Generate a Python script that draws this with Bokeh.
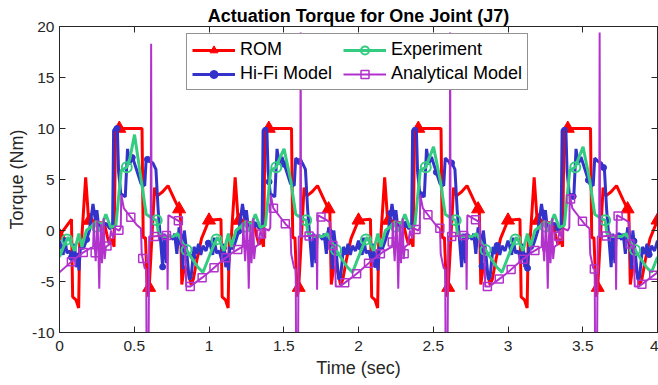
import numpy as np
from bokeh.plotting import figure
from bokeh.models import (Range1d, LinearAxis, FixedTicker, NumeralTickFormatter,
                          Legend, LegendItem)
from bokeh.embed import file_html
from bokeh.resources import INLINE

# ---------------- data (one gait cycle, period 1 s) ----------------
N_CYCLES = 4
PERIOD = 1.0

ROM_T = [0.000, 0.080, 0.088, 0.110, 0.128, 0.135, 0.150, 0.175, 0.195, 0.250, 0.300,
         0.320, 0.335, 0.350, 0.365, 0.375, 0.552, 0.560, 0.575, 0.590, 0.600, 0.636,
         0.655, 0.690, 0.726, 0.770, 0.800, 0.808, 0.818, 0.835, 0.860, 0.880, 0.895,
         0.920, 0.950, 1.000]
ROM_Y = [1.0, 1.1, -6.5, -6.8, -7.6, -1.3, -0.5, 5.2, 1.0, 0.8, 0.7,
         -0.6, -1.4, -0.8, -1.6, 10.0, 10.0, -0.7, -0.7, -6.5, -5.6, 4.2,
         3.4, 3.8, 4.4, 3.0, 2.1, 2.0, -5.3, -3.5, -4.0, -5.3, -4.8,
         -2.8, -0.8, 1.0]
ROM_START = [-0.5, 1.0, 1.0, 1.0]        # value at the start of each cycle

HIFI_T = [0.000, 0.012, 0.025, 0.034, 0.050, 0.068, 0.085, 0.101, 0.112, 0.122, 0.130,
          0.140, 0.160, 0.179, 0.200, 0.224, 0.240, 0.250, 0.265, 0.290, 0.313, 0.335,
          0.355, 0.362, 0.370, 0.387, 0.395, 0.410, 0.440, 0.455, 0.470, 0.488, 0.510,
          0.545, 0.570, 0.580, 0.600, 0.625, 0.645, 0.660, 0.690, 0.700, 0.715, 0.722,
          0.740, 0.760, 0.770, 0.785, 0.800, 0.815, 0.825, 0.835, 0.850, 0.868, 0.880,
          0.900, 0.915, 0.930, 0.945, 0.960, 0.980, 1.000]
HIFI_Y = [-1.0, -1.6, -2.4, -0.7, -2.2, -2.0, -2.9, -1.3, -3.6, -2.2, -3.9,
          -1.6, -1.8, -1.0, 0.0, 2.6, 1.0, 2.0, 0.0, 0.5, 0.7, 0.2,
          0.3, 9.8, 10.0, 10.0, 5.8, 3.6, 3.3, 8.0, 6.5, 7.2, 6.2,
          4.6, 4.4, 7.1, 6.8, 6.6, 6.0, 2.0, -3.6, -0.3, -3.2, -0.6,
          -0.5, -0.9, -0.3, -2.3, 0.3, -0.5, -3.8, 0.0, -2.0, -4.8, -4.6,
          -1.6, -2.3, -1.3, -2.4, -1.5, -2.0, -1.0]

EXP_T = [0.000, 0.030, 0.057, 0.080, 0.100, 0.130, 0.150, 0.180, 0.235, 0.270, 0.310,
         0.343, 0.377, 0.413, 0.450, 0.470, 0.502, 0.547, 0.580, 0.620, 0.650, 0.662,
         0.700, 0.760, 0.790, 0.837, 0.880, 0.926, 0.960, 1.000]
EXP_Y = [-2.6, -1.5, -0.65, -1.3, -2.0, -0.3, -1.6, 0.0, 0.65, 0.0, 1.6,
         0.3, 0.5, 5.9, 6.2, 7.0, 8.0, 4.9, 1.6, 1.2, 1.0, -0.3,
         -0.6, -0.6, -0.3, -1.6, -2.6, -3.6, -4.1, -2.6]
EXP_PEAK = [9.4, 8.0, 8.2, 8.2]          # peak value of each cycle

ANA_T = [0.000, 0.076, 0.154, 0.210, 0.225, 0.230, 0.236, 0.242, 0.248, 0.254, 0.260,
         0.266, 0.272, 0.278, 0.284, 0.290, 0.296, 0.302, 0.310, 0.330, 0.345, 0.360,
         0.370, 0.400, 0.410, 0.413, 0.430, 0.477, 0.514, 0.545, 0.550, 0.570, 0.580,
         0.583, 0.595, 0.600, 0.610, 0.613, 0.616, 0.700, 0.720, 0.723, 0.728, 0.790,
         0.810, 0.815, 0.840, 0.848, 0.874, 0.956, 1.000]
ANA_Y = [-4.1, -3.1, -2.2, -1.7, -1.6, 0.8, -1.6, -3.0, -1.2, 1.0, -1.8,
         -5.7, -1.4, 0.6, -3.2, -1.5, 1.2, -2.8, -1.6, -1.4, 0.0, -0.8,
         0.2, 0.0, 0.3, 3.5, 2.2, 1.3, 0.6, 0.2, -2.3, -3.7, -3.8,
         -14.0, -14.0, -0.6, -0.6, 19.4, -0.6, -0.5, -0.5, -5.8, 1.5, 1.0,
         0.8, -1.3, -1.6, -5.5, -5.5, -4.6, -4.1]
ANA_SPIKE = [18.3, 19.4, 19.4, 19.4]     # spike height of each cycle

X_TICKS = [0, 0.5, 1, 1.5, 2, 2.5, 3, 3.5, 4]
Y_TICKS = [-10, -5, 0, 5, 10, 15, 20]

# marker sample spacing of each series (s)
ROM_MK = (0.0, 0.2)
HIFI_MK = (0.385 - 3 * 0.1017, 0.1017)
EXP_MK = (0.05, 0.2)
ANA_MK = (0.0795, 0.0795)


def tile(ct, cy, peaks=None, starts=None):
    ts, ys = [], []
    ipk = int(np.argmax(cy))
    for k in range(N_CYCLES):
        n = len(ct) if k == N_CYCLES - 1 else len(ct) - 1
        for i in range(n):
            ts.append(ct[i] + k * PERIOD)
            if peaks is not None and i == ipk:
                ys.append(peaks[k])
            elif starts is not None and i == 0:
                ys.append(starts[k])
            else:
                ys.append(cy[i])
    return np.array(ts), np.array(ys)


def marks(t, y, start, step):
    mt = np.arange(start, 4.0 + 1e-9, step)
    return mt, np.interp(mt, t, y)


rom_t, rom_y = tile(ROM_T, ROM_Y, starts=ROM_START)
hifi_t, hifi_y = tile(HIFI_T, HIFI_Y)
exp_t, exp_y = tile(EXP_T, EXP_Y, EXP_PEAK)
ana_t, ana_y = tile(ANA_T, ANA_Y, ANA_SPIKE)

# ---------------- figure ----------------
AX = "#262626"
FONT = "Liberation Sans"
RED, BLUE, GREEN, PURPLE = "#FF0000", "#3333CC", "#33CC80", "#B233CC"

p = figure(width=658, height=385, x_range=Range1d(0, 4), y_range=Range1d(-10, 20),
           output_backend="svg", toolbar_location=None,
           min_border_left=59, min_border_right=1, min_border_top=26, min_border_bottom=53)
p.background_fill_color = "white"
p.border_fill_color = "white"
p.outline_line_color = AX
p.grid.visible = False

p.title.text = "Actuation Torque for One Joint (J7)"
p.title.text_font = FONT
p.title.text_font_size = "18px"
p.title.text_font_style = "bold"
p.title.text_color = "black"
p.title.align = "center"
p.title.standoff = 2


def style_axis(ax, ticks, show_labels=True):
    ax.ticker = FixedTicker(ticks=ticks)
    ax.formatter = NumeralTickFormatter(format="0.[0]")
    ax.major_tick_in = 6
    ax.major_tick_out = 0
    ax.minor_tick_line_color = None
    ax.axis_line_color = AX
    ax.major_tick_line_color = AX
    ax.major_label_text_font = FONT
    ax.major_label_text_color = AX
    ax.axis_label_text_font = FONT
    ax.axis_label_text_font_size = "18px"
    ax.axis_label_text_font_style = "normal"
    ax.axis_label_text_color = AX
    if show_labels:
        ax.major_label_text_font_size = "15.5px"
    else:
        ax.major_label_text_font_size = "1px"
        ax.major_label_text_color = None
        ax.major_label_standoff = 0


style_axis(p.xaxis[0], X_TICKS)
style_axis(p.yaxis[0], Y_TICKS)
p.xaxis[0].axis_label = "Time (sec)"
p.yaxis[0].axis_label = "Torque (Nm)"
p.xaxis[0].major_label_standoff = 8
p.xaxis[0].axis_label_standoff = 4
p.yaxis[0].major_label_standoff = 5
p.yaxis[0].axis_label_standoff = 2

ax_top = LinearAxis()
style_axis(ax_top, X_TICKS, show_labels=False)
p.add_layout(ax_top, "above")
ax_right = LinearAxis()
style_axis(ax_right, Y_TICKS, show_labels=False)
p.add_layout(ax_right, "right")

# ---------------- series ----------------
r_rom = p.line(rom_t, rom_y, line_color=RED, line_width=3)
mt, my = marks(rom_t, rom_y, *ROM_MK)
m_rom = p.scatter(mt, my, marker="triangle", size=13, fill_color=RED, line_color=RED)

r_hifi = p.line(hifi_t, hifi_y, line_color=BLUE, line_width=3)
mt, my = marks(hifi_t, hifi_y, *HIFI_MK)
m_hifi = p.scatter(mt, my, marker="circle", size=6, fill_color=BLUE, line_color=BLUE)

r_exp = p.line(exp_t, exp_y, line_color=GREEN, line_width=3)
mt, my = marks(exp_t, exp_y, *EXP_MK)
m_exp = p.scatter(mt, my, marker="circle", size=10, fill_alpha=0, line_color=GREEN, line_width=2)

r_ana = p.line(ana_t, ana_y, line_color=PURPLE, line_width=2)
mt, my = marks(ana_t, ana_y, *ANA_MK)
m_ana = p.scatter(mt, my, marker="square", size=8, fill_alpha=0, line_color=PURPLE, line_width=1.5)

legend = Legend(items=[
    LegendItem(label="ROM", renderers=[r_rom, m_rom]),
    LegendItem(label="Hi-Fi Model", renderers=[r_hifi, m_hifi]),
    LegendItem(label="Experiment", renderers=[r_exp, m_exp]),
    LegendItem(label="Analytical Model", renderers=[r_ana, m_ana]),
], ncols=2, location=(127, 242))
legend.level = "underlay"
legend.label_text_font = FONT
legend.label_text_font_size = "18px"
legend.label_text_color = "black"
legend.border_line_color = AX
legend.border_line_width = 1
legend.background_fill_color = "white"
legend.background_fill_alpha = 1
legend.glyph_width = 43
legend.glyph_height = 20
legend.label_height = 20
legend.label_width = 100
legend.label_standoff = 5
legend.padding = 5
legend.spacing = 3
legend.margin = 0
p.add_layout(legend)

open("out.html", "w").write(file_html(p, INLINE))
